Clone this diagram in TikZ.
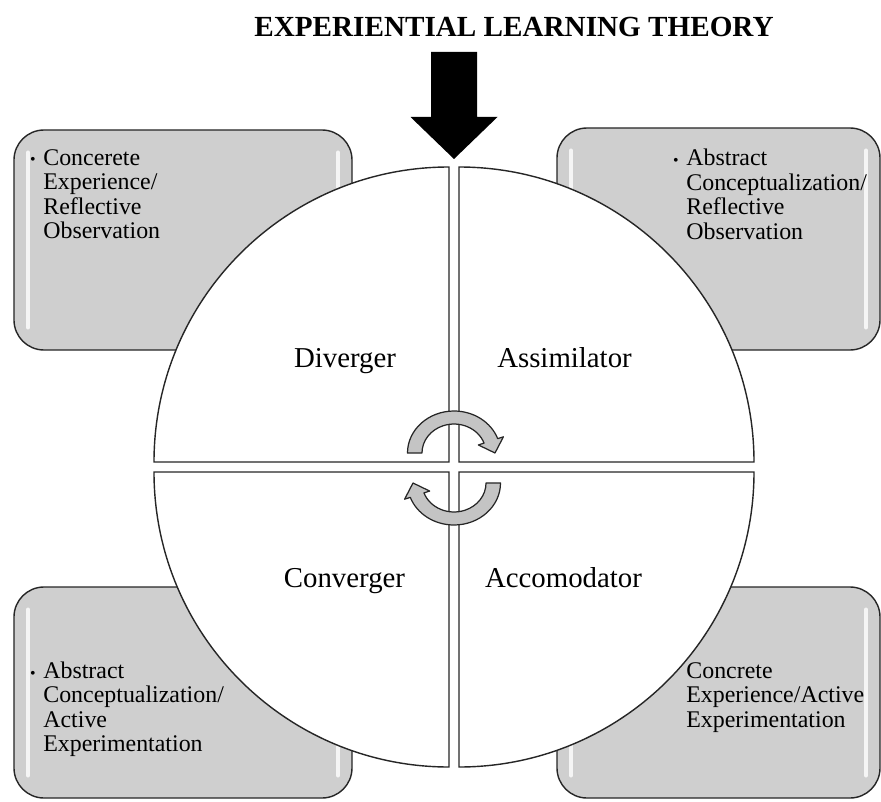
\documentclass[tikz,border=0pt]{standalone}
\usepackage{fontspec}
\setmainfont{Liberation Serif}
\definecolor{boxgray}{RGB}{207,207,207}
\definecolor{arrowgray}{RGB}{196,196,196}
\tikzset{
  stylebox/.style={draw=black!85, fill=boxgray, line width=0.8pt, rounded corners=0.6cm},
  shine/.style={white, line width=0.08cm, line cap=round, opacity=0.8},
  quarter/.style={draw=black!85, fill=white, line width=0.8pt},
  boxtext/.style={anchor=base west, inner sep=0pt, align=left, font=\fontsize{13.6}{13.9}\selectfont},
  bulletmark/.style={anchor=base, inner sep=0pt, font=\fontsize{9}{9}\selectfont},
  quadlabel/.style={anchor=base, inner sep=0pt, font=\fontsize{16.4}{20}\selectfont},
  cyclearrow/.style={draw=black!85, fill=arrowgray, line width=0.7pt, line join=round}
}
\begin{document}
\begin{tikzpicture}
        \useasboundingbox (-9.08,-6.68) rectangle (8.54,9.34);
        %% title and arrow
        \node[anchor=base, inner sep=0pt, font=\fontsize{16.6}{20}\selectfont\bfseries] (title) at (1.2,8.6) {EXPERIENTIAL LEARNING THEORY};
        \coordinate (tip) at (0,6.16);
        \fill[black] (-0.46,8.3) -- (0.46,8.3) -- (0.46,7.0) -- (0.87,7.0) -- (tip) -- (-0.87,7.0) -- (-0.46,7.0) -- cycle;
        %% gray boxes
        \foreach \xa/\ya/\xb/\yb in {-8.8/2.34/-2.04/6.74, 2.06/2.34/8.52/6.78, -8.8/-6.62/-2.04/-2.4, 2.06/-6.62/8.52/-2.4} {
            \draw[stylebox] (\xa,\ya) rectangle (\xb,\yb);
            \draw[shine] (\xa+0.28,\ya+0.45) -- (\xa+0.28,\yb-0.45);
            \draw[shine] (\xb-0.28,\ya+0.45) -- (\xb-0.28,\yb-0.45);
        }
        %% box texts (base = last line)
        \node[boxtext] (ce) at (-8.22,4.57) {Concerete\\Experience/\\Reflective\\Observation};
        \node[bulletmark] at (-8.42,6.04) {\textbullet};
        \node[boxtext] (acro) at (4.64,4.56) {Abstract\\Conceptualization/\\Reflective\\Observation};
        \node[bulletmark] at (4.44,6.03) {\textbullet};
        \node[boxtext] (acae) at (-8.22,-5.69) {Abstract\\Conceptualization/\\Active\\Experimentation};
        \node[bulletmark] at (-8.42,-4.22) {\textbullet};
        \node[boxtext] (ceae) at (4.64,-5.2) {Concrete\\Experience/Active\\Experimentation};
        %% circle quarters
        \draw[quarter] (-0.1,0.1) -- (-0.1,6.0) arc (90:180:5.9) -- cycle;
        \draw[quarter] (0.1,0.1) -- (6.0,0.1) arc (0:90:5.9) -- cycle;
        \draw[quarter] (-0.1,-0.1) -- (-6.0,-0.1) arc (180:270:5.9) -- cycle;
        \draw[quarter] (0.1,-0.1) -- (0.1,-6.0) arc (270:360:5.9) -- cycle;
        \node[quadlabel] (diverger) at (-2.18,2.0) {Diverger};
        \node[quadlabel] (assimilator) at (2.21,2.0) {Assimilator};
        \node[quadlabel] (converger) at (-2.19,-2.4) {Converger};
        \node[quadlabel] (accomodator) at (2.19,-2.4) {Accomodator};
        %% cycle arrows
        \foreach \cy/\rot in {0.28/0, -0.32/180}
            \draw[cyclearrow, shift={(0,\cy)}, rotate=\rot] (-0.93,0) arc (180:20:0.93 and 0.84) -- (0.988,0.324) -- (0.82,0) -- (0.487,0.161) -- (0.601,0.198) arc (20:180:0.64 and 0.58) -- cycle;
    \end{tikzpicture}
\end{document}
